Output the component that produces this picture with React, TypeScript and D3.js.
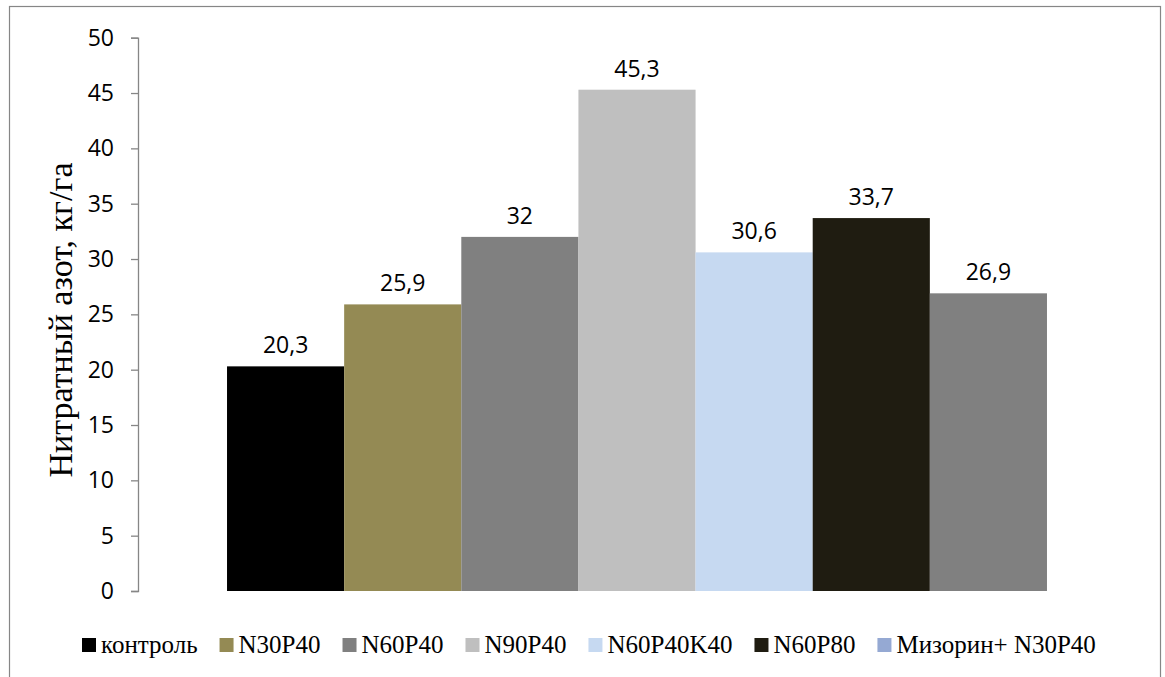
import { useEffect, useRef } from 'react';
import * as d3 from 'd3';

const seriesNames = ['контроль', 'N30P40', 'N60P40', 'N90P40', 'N60P40K40', 'N60P80', 'Мизорин+ N30P40'];
const seriesValues = [20.3, 25.9, 32, 45.3, 30.6, 33.7, 26.9];
const barColors = ['#000000', '#948A54', '#808080', '#BFBFBF', '#C6D9F1', '#1F1C11', '#808080'];
const legendColors = ['#000000', '#948A54', '#808080', '#BFBFBF', '#C6D9F1', '#1F1C11', '#95A9D3'];
const yTicks = [0, 5, 10, 15, 20, 25, 30, 35, 40, 45, 50];
const yTitle = 'Нитратный азот, кг/га';

const W = 1165;
const H = 677;
const sansFont = 'Open Sans, sans-serif';
const serifFont = 'Liberation Serif, Times New Roman, serif';

export default function App() {
  const ref = useRef<SVGSVGElement>(null);

  useEffect(() => {
    const svg = d3.select(ref.current);
    svg.selectAll('*').remove();

    // chart frame (bottom edge runs off the picture)
    svg.append('rect')
      .attr('x', 9.5).attr('y', 6.5)
      .attr('width', 1151).attr('height', 700)
      .attr('fill', 'white')
      .attr('stroke', '#868686')
      .attr('stroke-width', 1.2);

    const plotLeft = 138;
    const plotRight = 1136;
    const y = d3.scaleLinear().domain([0, 50]).range([591, 37.7]);

    // one category, seven series side by side
    const x = d3.scaleBand<string>()
      .domain(seriesNames)
      .range([plotLeft, plotRight])
      .paddingInner(0)
      .paddingOuter(0.76);

    // y axis
    const axis = svg.append('g')
      .attr('transform', `translate(${plotLeft},0)`)
      .call(d3.axisLeft(y).tickValues(yTicks).tickSize(7).tickPadding(17).tickFormat(d3.format('d')));
    axis.select('.domain').attr('stroke', '#868686').attr('stroke-width', 1.3);
    axis.selectAll('.tick line').attr('stroke', '#868686').attr('stroke-width', 1.3);
    axis.selectAll('.tick text')
      .attr('font-family', sansFont)
      .attr('font-size', 23)
      .attr('fill', '#000');

    // bars
    svg.append('g').selectAll('rect')
      .data(seriesValues)
      .join('rect')
      .attr('x', (_, i) => x(seriesNames[i])!)
      .attr('width', x.bandwidth())
      .attr('y', d => y(d))
      .attr('height', d => y(0) - y(d))
      .attr('fill', (_, i) => barColors[i]);

    // value labels
    svg.append('g').selectAll('text')
      .data(seriesValues)
      .join('text')
      .attr('x', (_, i) => x(seriesNames[i])! + x.bandwidth() / 2)
      .attr('y', d => y(d) - 13)
      .attr('text-anchor', 'middle')
      .attr('font-family', sansFont)
      .attr('font-size', 23)
      .attr('fill', '#000')
      .text(d => String(d).replace('.', ','));

    // y title
    svg.append('text')
      .attr('transform', `translate(72,320) rotate(-90)`)
      .attr('text-anchor', 'middle')
      .attr('font-family', serifFont)
      .attr('font-size', 34)
      .attr('fill', '#000')
      .text(yTitle);

    // legend, laid out left to right
    const legend = svg.append('g');
    let lx = 82;
    seriesNames.forEach((name, i) => {
      legend.append('rect')
        .attr('x', lx).attr('y', 638)
        .attr('width', 14).attr('height', 14)
        .attr('fill', legendColors[i]);
      const t = legend.append('text')
        .attr('x', lx + 19).attr('y', 653)
        .attr('font-family', serifFont)
        .attr('font-size', 25)
        .attr('fill', '#000')
        .text(name);
      const w = (t.node() as SVGTextElement).getComputedTextLength();
      lx += 19 + w + 22;
    });
  }, []);

  return (
    <svg
      ref={ref}
      width={W}
      height={H}
      style={{ position: 'absolute', left: 0, top: 0, display: 'block', background: 'white' }}
    />
  );
}
